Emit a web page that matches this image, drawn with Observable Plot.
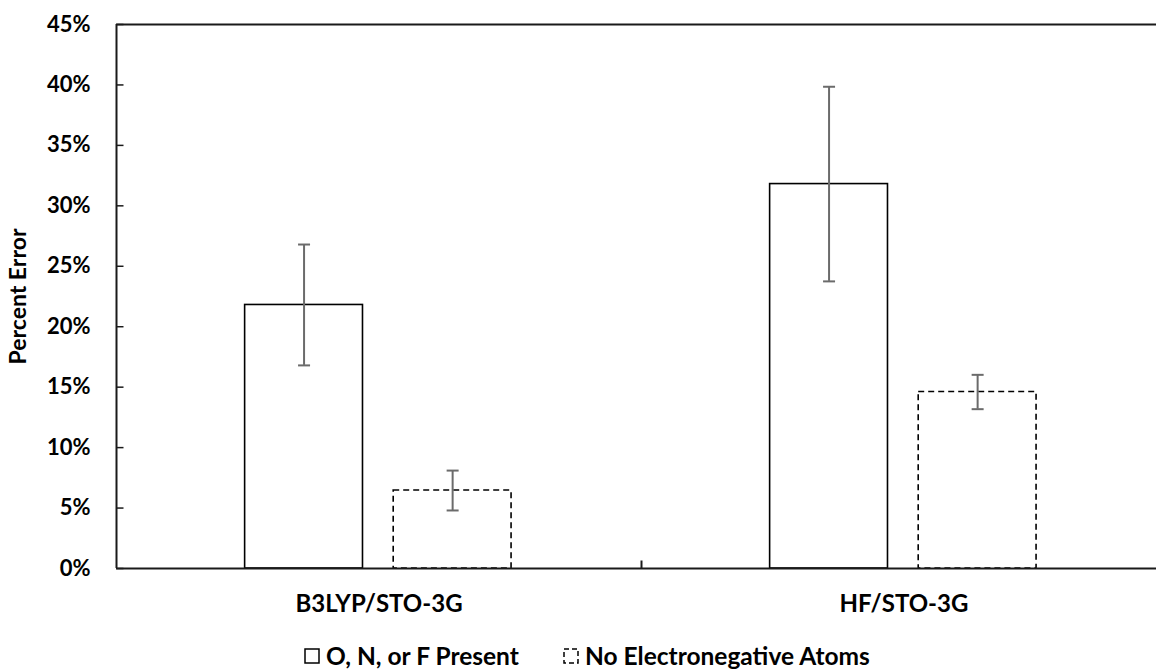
<!DOCTYPE html>
<html>
<head>
<meta charset="utf-8">
<script src="https://cdn.jsdelivr.net/npm/d3@7"></script>
<script src="https://cdn.jsdelivr.net/npm/@observablehq/plot@0.6"></script>
<style>
  html, body { margin: 0; padding: 0; background: #fff; }
  body { width: 1156px; height: 670px; position: relative; overflow: hidden; font-family: Lato, "Open Sans", sans-serif; }
  #chart { position: absolute; left: 0; top: 0; }
  #legend { position: absolute; left: 0; top: 630px; width: 1156px; height: 40px; font-weight: bold; font-size: 24.5px; color: #000; }
  .item { position: absolute; top: 11px; display: flex; align-items: center; white-space: nowrap; }
  .item svg { margin-right: 6px; }
</style>
</head>
<body>
<div id="chart"></div>
<div id="legend"></div>
<script>
// ---- data ----
const categories = ["B3LYP/STO-3G", "HF/STO-3G"];
const series = ["O, N, or F Present", "No Electronegative Atoms"];
const presentValues = [21.8, 31.8];
const presentErrors = [5.0, 8.05];
const noneValues = [6.45, 14.6];
const noneErrors = [1.65, 1.42];
const yTicks = [0, 5, 10, 15, 20, 25, 30, 35, 40, 45];

// ---- layout options (Excel-like clustered bars inside each category band) ----
const layout = { seriesOffset: [0.245, 0.528], barWidth: 0.2245 };

const rows = [];
categories.forEach((c, i) => {
  rows.push({cat: c, idx: i, s: 0, value: presentValues[i], err: presentErrors[i]});
  rows.push({cat: c, idx: i, s: 1, value: noneValues[i], err: noneErrors[i]});
});
rows.forEach(r => {
  r.x1 = r.idx + layout.seriesOffset[r.s];
  r.x2 = r.x1 + layout.barWidth;
  r.xc = (r.x1 + r.x2) / 2;
  r.lo = r.value - r.err;
  r.hi = r.value + r.err;
});

const capSymbol = { draw(ctx, size) { const w = Math.sqrt(size / Math.PI); ctx.moveTo(-w, 0); ctx.lineTo(w, 0); } };
const yTickSymbol = { draw(ctx, size) { const w = Math.sqrt(size / Math.PI); ctx.moveTo(0, 0); ctx.lineTo(w, 0); } };
const xTickSymbol = { draw(ctx, size) { const w = Math.sqrt(size / Math.PI); ctx.moveTo(0, 0); ctx.lineTo(0, -w); } };

const axisColor = "#1a1a1a";
const errColor = "#6b6b6b";

const chart = Plot.plot({
  width: 1156,
  height: 630,
  marginLeft: 116,
  marginRight: 0,
  marginTop: 24,
  marginBottom: 62,
  style: { fontFamily: "Lato, 'Open Sans', sans-serif", background: "#fff" },
  x: { domain: [0, categories.length], range: [116, 116 + 525 * categories.length], axis: null },
  y: { domain: [0, 45], axis: null },
  marks: [
    // bars
    Plot.rectY(rows.filter(r => r.s === 0), { x1: "x1", x2: "x2", y1: 0, y2: "value", fill: "#fff", stroke: "#000", strokeWidth: 1.6 }),
    Plot.rectY(rows.filter(r => r.s === 1), { x1: "x1", x2: "x2", y1: 0, y2: "value", fill: "#fff", stroke: "#000", strokeWidth: 1.6, strokeDasharray: "6,4" }),
    // error bars
    Plot.ruleX(rows, { x: "xc", y1: "lo", y2: "hi", stroke: errColor, strokeWidth: 2 }),
    Plot.dot(rows, { x: "xc", y: "lo", symbol: capSymbol, r: 6, stroke: errColor, strokeWidth: 2, fill: "none" }),
    Plot.dot(rows, { x: "xc", y: "hi", symbol: capSymbol, r: 6, stroke: errColor, strokeWidth: 2, fill: "none" }),
    // frame lines
    Plot.ruleY([0], { stroke: axisColor, strokeWidth: 2 }),
    Plot.ruleY([45], { stroke: axisColor, strokeWidth: 2 }),
    Plot.ruleX([0], { stroke: axisColor, strokeWidth: 2 }),
    // y ticks (inward)
    Plot.dot(yTicks, { x: 0, y: d => d, symbol: yTickSymbol, r: 7, stroke: axisColor, strokeWidth: 1.5, fill: "none" }),
    // x ticks at category boundaries (inward)
    Plot.dot(d3.range(1, categories.length), { x: d => d, y: 0, symbol: xTickSymbol, r: 8, stroke: axisColor, strokeWidth: 2, fill: "none" }),
    // y tick labels
    Plot.text(yTicks, { y: d => d, frameAnchor: "left", dx: -26, textAnchor: "end", text: d => d + "%", fontSize: 22, fontWeight: "bold", fill: "#000" }),
    // x category labels
    Plot.text(categories, { x: (d, i) => i + 0.5, frameAnchor: "bottom", dy: 36, text: d => d, fontSize: 24, fontWeight: "bold", fill: "#000", lineAnchor: "middle" }),
    // y axis title
    Plot.text(["Percent Error"], { frameAnchor: "left", dx: -98, rotate: -90, textAnchor: "middle", text: d => d, fontSize: 23, fontWeight: "bold", fill: "#000", lineAnchor: "middle" })
  ]
});
document.getElementById("chart").appendChild(chart);

// ---- legend ----
const legend = document.getElementById("legend");
const legendLeft = [304, 563];
series.forEach((name, i) => {
  const item = document.createElement("div");
  item.className = "item";
  item.style.left = legendLeft[i] + "px";
  const dash = i === 1 ? ' stroke-dasharray="5,3"' : '';
  item.innerHTML = `<svg width="16" height="16"><rect x="1" y="1" width="14" height="14" fill="#fff" stroke="#000" stroke-width="1.5"${dash}/></svg><span>${name}</span>`;
  legend.appendChild(item);
});
</script>
</body>
</html>
